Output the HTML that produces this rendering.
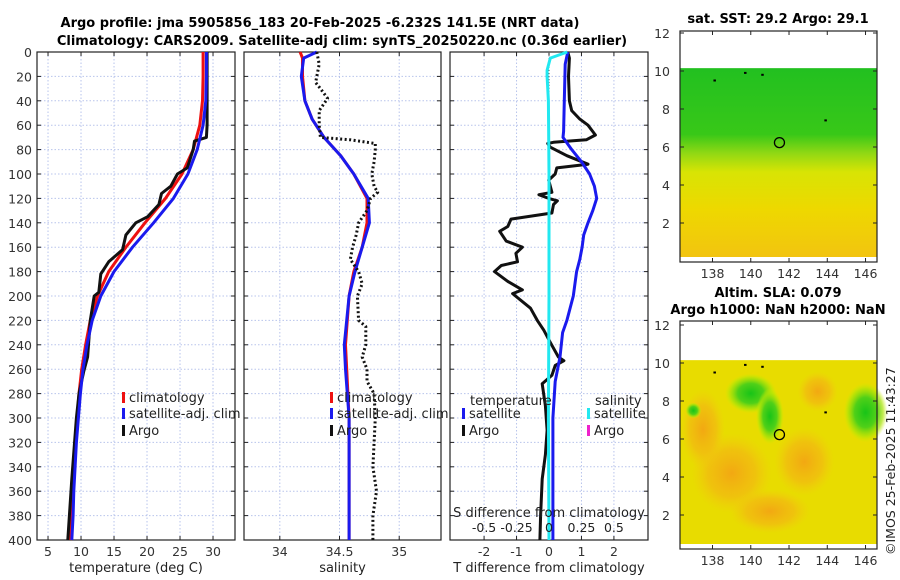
<!DOCTYPE html>
<html><head><meta charset="utf-8"><style>
html,body{margin:0;padding:0;background:#fff;width:900px;height:580px;overflow:hidden}
svg{font-family:"DejaVu Sans","Liberation Sans",sans-serif}
</style></head><body>
<svg id="c" width="900" height="580" viewBox="0 0 900 580" xmlns="http://www.w3.org/2000/svg">
<defs>
<linearGradient id="g1" x1="0" y1="0" x2="0" y2="1">
<stop offset="0" stop-color="#22c020"/><stop offset="0.35" stop-color="#38c818"/><stop offset="0.45" stop-color="#90d814"/><stop offset="0.55" stop-color="#d8e404"/><stop offset="0.75" stop-color="#eed800"/><stop offset="1" stop-color="#f2c410"/></linearGradient>
<radialGradient id="gb1"><stop offset="0" stop-color="#18c418"/><stop offset="0.5" stop-color="#50d018"/><stop offset="0.8" stop-color="#a8e408" stop-opacity="0.7"/><stop offset="1" stop-color="#d0ec00" stop-opacity="0"/></radialGradient>
<radialGradient id="go1"><stop offset="0" stop-color="#f2a812"/><stop offset="0.6" stop-color="#f2b812" stop-opacity="0.7"/><stop offset="1" stop-color="#f2c810" stop-opacity="0"/></radialGradient>
</defs>
<text x="320" y="27" text-anchor="middle" font-weight="bold" font-size="13">Argo profile: jma 5905856_183 20-Feb-2025 -6.232S 141.5E (NRT data)</text>
<text x="342" y="45" text-anchor="middle" font-weight="bold" font-size="13">Climatology: CARS2009. Satellite-adj clim: synTS_20250220.nc (0.36d earlier)</text>
<text x="778" y="23" text-anchor="middle" font-weight="bold" font-size="13">sat. SST: 29.2 Argo: 29.1</text>
<text x="778" y="297" text-anchor="middle" font-weight="bold" font-size="13">Altim. SLA: 0.079</text>
<text x="778" y="314" text-anchor="middle" font-weight="bold" font-size="13">Argo h1000: NaN h2000: NaN</text>
<text transform="translate(895,555) rotate(-90)" font-size="12.5" fill="#222">©IMOS 25-Feb-2025 11:43:27</text>
<g id="plots"></g>
</svg>
<script>
// ---- data ----
const depthTicks=[0,20,40,60,80,100,120,140,160,180,200,220,240,260,280,300,320,340,360,380,400];
const tempTicks=[5,10,15,20,25,30];
const salTicks=[34,34.5,35];
const dTTicks=[-2,-1,0,1,2];
const dSTicks=[-0.5,-0.25,0,0.25,0.5];
const tClimDepth=[0,20,40,60,80,100,120,140,160,180,200,220,240,260,280,300,320,340,360,380,400];
const tClim=[28.5,28.5,28.4,28,27,25.3,22.8,19.7,16.8,14.2,12.5,11.4,10.7,10.1,9.7,9.4,9.2,9,8.8,8.6,8.4];
const tSat=[29,29,28.9,28.5,27.6,26.2,24,21,17.8,15,13,11.7,10.9,10.3,9.9,9.6,9.3,9.1,8.9,8.8,8.6];
const tArgoDepth=[0,20,60,70,73,80,95,100,110,116,125,135,140,150,162,172,182,197,200,220,250,262,280,300,350,400];
const tArgo=[29.1,29.1,29.1,29,27.2,27,26.1,24.6,23.6,22.2,21.8,20.1,18.3,16.8,16.3,14.2,13,12.7,12,11.4,11,10.4,9.7,9.3,8.6,8.0];
const sClimDepth=[0,5,20,40,55,70,85,100,120,140,160,180,200,240,260,300,400];
const sClim=[34.17,34.19,34.19,34.21,34.27,34.37,34.51,34.62,34.73,34.73,34.69,34.62,34.58,34.55,34.56,34.58,34.58];
const sSat=[34.31,34.2,34.18,34.21,34.27,34.37,34.51,34.62,34.74,34.75,34.69,34.63,34.58,34.54,34.55,34.58,34.58];
const sArgoDepth=[0,10,25,30,38,48,60,70,72,75,80,90,100,110,115,120,130,140,150,160,170,180,190,200,220,225,240,250,260,270,280,300,340,360,380,400];
const sArgo=[34.31,34.33,34.30,34.34,34.4,34.33,34.33,34.34,34.59,34.8,34.8,34.79,34.77,34.79,34.82,34.76,34.73,34.66,34.64,34.61,34.59,34.66,34.69,34.65,34.66,34.72,34.72,34.69,34.73,34.73,34.79,34.8,34.78,34.81,34.78,34.78];
const dTSatDepth=[0,10,40,65,70,80,90,100,110,120,130,140,150,160,170,180,200,220,230,250,270,300,400];
const dTSat=[0.58,0.5,0.47,0.45,0.43,0.7,1.0,1.25,1.4,1.47,1.35,1.2,1.07,1.02,0.95,0.85,0.75,0.55,0.42,0.34,0.19,0.12,0.12];
const dTArgoDepth=[0,5,20,40,48,55,60,68,72,74,75,78,85,92,95,100,105,115,117,120,122,125,132,137,143,147,155,160,165,172,175,180,188,195,198,210,220,228,238,250,253,257,265,272,290,310,330,350,380,400];
const dTArgo=[0.58,0.63,0.6,0.63,0.7,0.95,1.2,1.43,1.15,0.14,-0.04,0.04,0.55,1.2,0.24,0.19,-0.01,0.09,-0.31,-0.01,0.26,0.14,0.09,-1.17,-1.27,-1.52,-1.32,-0.82,-1.02,-0.97,-1.47,-1.68,-1.27,-0.82,-1.12,-0.57,-0.36,-0.16,0.04,0.29,0.46,0.19,0.09,-0.21,-0.11,-0.06,-0.11,-0.21,-0.26,-0.28];
const dSSatDepth=[0,5,15,20,40,100,200,300,400];
const dSSat=[0.14,0.01,-0.015,-0.015,-0.005,0,0,-0.005,0];
const lonTicks=[138,140,142,144,146];
const latTicks=[2,4,6,8,10,12];

const NS="http://www.w3.org/2000/svg";
const root=document.getElementById('plots');
function el(tag,attrs,parent){const e=document.createElementNS(NS,tag);for(const k in attrs)e.setAttribute(k,attrs[k]);(parent||root).appendChild(e);return e;}
const Y0=52,Y1=540;
const yD=d=>Y0+(d/400)*(Y1-Y0);
function mkX(x0,x1,v0,v1){return v=>x0+(v-v0)/(v1-v0)*(x1-x0);}
const xT=mkX(37,235,3.33,33.33);
const xS=mkX(244,441,33.7,35.35);
const xDT=mkX(450,648,-3.05,3.05);
const xDS=v=>xDT(v*4);

function panel(name,x0,x1,xf,xticks,xlabel){
  const g=el('g',{});
  
  
  xticks.forEach(t=>{const l=el('line',{x1:xf(t),x2:xf(t),y1:Y0,y2:Y1,stroke:'#b8c4ec','stroke-dasharray':'1.5,2','stroke-width':1},g);
    
    const tl=el('text',{x:xf(t),y:556,'text-anchor':'middle','font-size':12.5,fill:'#333'},g);tl.textContent=t;
    
    el('line',{x1:xf(t),x2:xf(t),y1:Y1,y2:Y1-4,stroke:'#222'},g);el('line',{x1:xf(t),x2:xf(t),y1:Y0,y2:Y0+4,stroke:'#222'},g);});
  depthTicks.forEach(d=>{const l=el('line',{x1:x0,x2:x1,y1:yD(d),y2:yD(d),stroke:'#b8c4ec','stroke-dasharray':'1.5,2','stroke-width':1},g);
    
    el('line',{x1:x0,x2:x0+4,y1:yD(d),y2:yD(d),stroke:'#222'},g);el('line',{x1:x1,x2:x1-4,y1:yD(d),y2:yD(d),stroke:'#222'},g);});
  const r=el('rect',{x:x0,y:Y0,width:x1-x0,height:Y1-Y0,fill:'none',stroke:'#222','stroke-width':1.2},g);
  
  const xl=el('text',{x:(x0+x1)/2,y:572,'text-anchor':'middle','font-size':13,fill:'#222'},g);xl.textContent=xlabel;
  
  return g;
}
function line(g,xf,vals,depths,color,w,name,dash){
  const p=vals.map((v,i)=>xf(v).toFixed(1)+','+yD(depths[i]).toFixed(1)).join(' ');
  const a={points:p,fill:'none',stroke:color,'stroke-width':w,'stroke-linejoin':'round'};
  if(dash)a['stroke-dasharray']=dash;
  const e=el('polyline',a,g);
  
  
}
function legend(g,x,y,color,text){
  el('rect',{x:x,y:y-10,width:3,height:11,fill:color},g);
  const t=el('text',{x:x+7,y:y,'font-size':13,fill:'#222'},g);t.textContent=text;
  
}
// Panel 1
const g1=panel('temperature-panel',37,235,xT,tempTicks,'temperature (deg C)');
depthTicks.forEach(d=>{const t=el('text',{x:32,y:yD(d)+5,'text-anchor':'end','font-size':12.5,fill:'#333'},g1);t.textContent=d;
  });
line(g1,xT,tClim,tClimDepth,'#ee1111',3,'temp-climatology-line');
line(g1,xT,tArgo,tArgoDepth,'#111',3,'temp-argo-line');
line(g1,xT,tSat,tClimDepth,'#1a1aee',3,'temp-satellite-line');
legend(g1,122,402,'#ee1111','climatology');legend(g1,122,418,'#1a1aee','satellite-adj. clim');legend(g1,122,435,'#111','Argo');
// Panel 2
const g2=panel('salinity-panel',244,441,xS,salTicks,'salinity');
line(g2,xS,sClim,sClimDepth,'#ee1111',3,'sal-climatology-line');
line(g2,xS,sSat,sClimDepth,'#1a1aee',3,'sal-satellite-line');
line(g2,xS,sArgo,sArgoDepth,'#111',3,'sal-argo-line','2,2.5');
legend(g2,330,402,'#ee1111','climatology');legend(g2,330,418,'#1a1aee','satellite-adj. clim');legend(g2,330,435,'#111','Argo');
// Panel 3
const g3=panel('difference-panel',450,648,xDT,dTTicks,'T difference from climatology');
line(g3,xDT,[0,0],[0,400],'#555',1,'zero-reference-line','1,2');
line(g3,xDT,dTArgo,dTArgoDepth,'#111',3,'dT-argo-line');
line(g3,xDT,dTSat,dTSatDepth,'#1a1aee',3,'dT-satellite-line');
line(g3,xDS,dSSat,dSSatDepth,'#22e8f0',3,'dS-satellite-line');
{const t=el('text',{x:470,y:405,'font-size':13,fill:'#222'},g3);t.textContent='temperature';
 const s=el('text',{x:595,y:405,'font-size':13,fill:'#222'},g3);s.textContent='salinity';}
legend(g3,462,418,'#1a1aee','satellite');legend(g3,462,435,'#111','Argo');
legend(g3,587,418,'#22e8f0','satellite');legend(g3,587,435,'#ee22cc','Argo');
{const t=el('text',{x:549,y:517,'text-anchor':'middle','font-size':13,fill:'#222'},g3);t.textContent='S difference from climatology';
 }
dSTicks.forEach(v=>{const t=el('text',{x:xDS(v),y:532,'text-anchor':'middle','font-size':12.5,fill:'#222'},g3);t.textContent=String(v);
  });

// Maps
const xLon=mkX(680,877,136.3,146.6);
function map(name,top,bottom,y10,kind){
  const g=el('g',{});
  const yLat=v=>y10+(10-v)*19;
  const cTop=yLat(10.15), cBot=bottom-5;
  if(kind==1){
    el('rect',{x:680,y:cTop,width:197,height:cBot-cTop,fill:'url(#g1)'},g);
  }else{
    el('rect',{x:680,y:cTop,width:197,height:cBot-cTop,fill:'#e8dc00'},g);
    [[139,4.2,40,40],[142.8,4.8,30,34],[141,2.2,40,22],[137.5,6.5,22,40],[143.5,8.5,20,20]].forEach(b=>{
      el('ellipse',{cx:xLon(b[0]),cy:yLat(b[1]),rx:b[2],ry:b[3],fill:'url(#go1)'},g);});
    [[140,8.4,26,20],[141,7.2,14,28],[146,7.4,22,30],[137,7.5,8,8]].forEach(b=>{
      el('ellipse',{cx:xLon(b[0]),cy:yLat(b[1]),rx:b[2],ry:b[3],fill:'url(#gb1)'},g);});
  }
  lonTicks.forEach(t=>{el('line',{x1:xLon(t),x2:xLon(t),y1:bottom,y2:bottom-4,stroke:'#222'},g);el('line',{x1:xLon(t),x2:xLon(t),y1:top,y2:top+4,stroke:'#222'},g);
    const tl=el('text',{x:xLon(t),y:bottom+16,'text-anchor':'middle','font-size':12.5,fill:'#333'},g);tl.textContent=t;
    });
  latTicks.forEach(t=>{const yy=yLat(t);el('line',{x1:680,x2:684,y1:yy,y2:yy,stroke:'#222'},g);el('line',{x1:877,x2:873,y1:yy,y2:yy,stroke:'#222'},g);
    const tl=el('text',{x:670,y:yy+5,'text-anchor':'end','font-size':12.5,fill:'#333'},g);tl.textContent=t;
    });
  const r=el('rect',{x:680,y:top,width:197,height:bottom-top,fill:'none',stroke:'#222','stroke-width':1.2},g);
  
  const c=el('circle',{cx:xLon(141.5),cy:yLat(6.232),r:5,fill:'none',stroke:'#000','stroke-width':1.3},g);
  
  [[138.1,9.5],[139.7,9.9],[140.6,9.8],[143.9,7.4]].forEach(p=>el('rect',{x:xLon(p[0])-1,y:yLat(p[1])-1,width:2.5,height:2,fill:'#000'},g));
}
map('sst-map',31,262,71,1);
map('sla-map',321,549,363,2);
</script>
</body></html>
